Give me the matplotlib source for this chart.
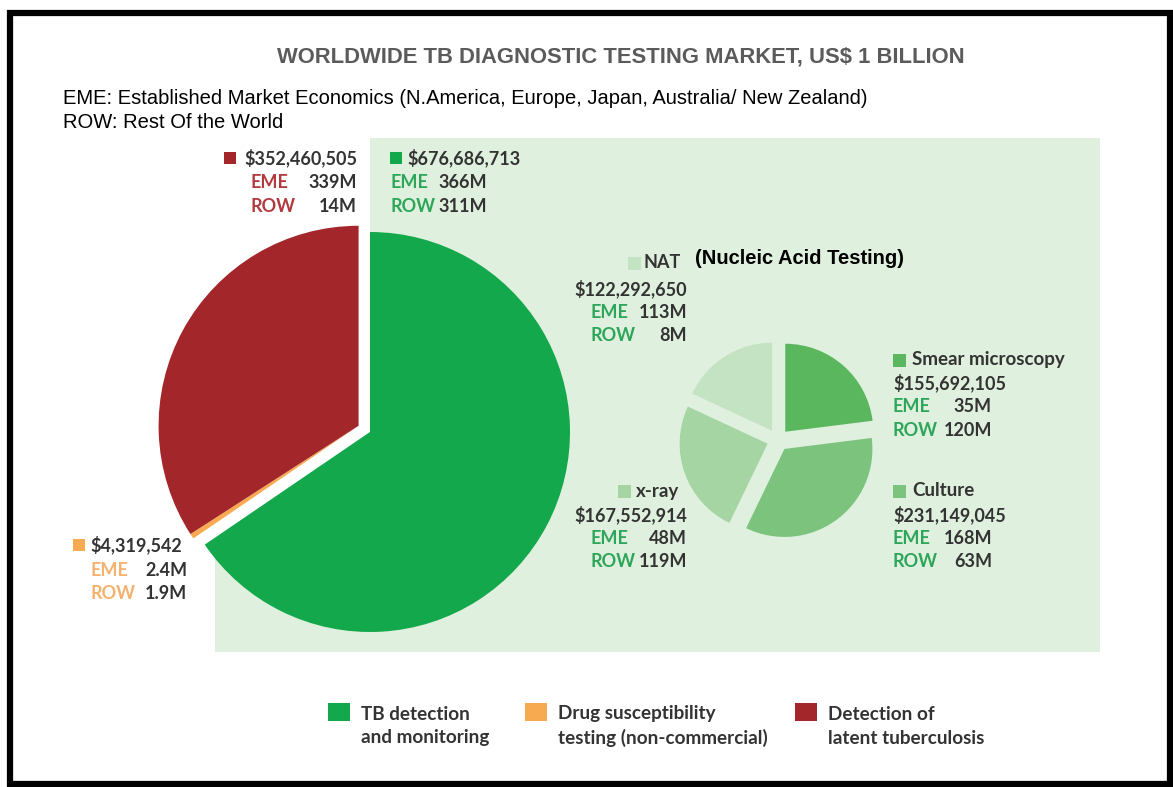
import matplotlib.pyplot as plt
from matplotlib.patches import Rectangle, Polygon

W, H = 1173, 787

# market split (US$)
market_names = ["TB detection", "Drug susceptibility", "Detection of latent TB"]
market_values = [676686713, 4319542, 352460505]
market_eme = ["366M", "2.4M", "339M"]
market_row = ["311M", "1.9M", "14M"]
legend_lines = [("TB detection", "and monitoring"),
                ("Drug susceptibility", "testing (non-commercial)"),
                ("Detection of", "latent tuberculosis")]

# TB detection and monitoring, split by method (clockwise from the top)
method_names = ["Smear microscopy", "Culture", "x-ray", "NAT"]
method_values = [155692105, 231149045, 167552914, 122292650]
method_eme = ["35M", "168M", "48M", "113M"]
method_row = ["120M", "63M", "119M", "8M"]

market_colors = ["#12a84b", "#f8aa50", "#a3262b"]
tag_colors = ["#2ea65a", "#f5b26e", "#b3393e"]
method_colors = ["#5bb75e", "#7cc47e", "#a5d5a3", "#c4e3c2"]
panel_color = "#e0f0de"
text_color = "#333333"

LABEL = dict(family="Lato", weight="bold", fontsize=13, color=text_color, va="center")


def Y(py):
    # pixel rows are counted from the top
    return H - py


def txt(x, y, s, **kw):
    opts = dict(LABEL)
    opts.update(kw)
    ax.text(x, Y(y), s, **opts)


def key(x, y, color, w=12, h=12):
    ax.add_patch(Rectangle((x, Y(y) - h / 2), w, h, color=color, lw=0))


def money(v):
    return "${:,}".format(v)


def tag_rows(x_tag, x_val, y0, eme, row, color, dy=23.5):
    txt(x_tag, y0, "EME", color=color)
    txt(x_val, y0, eme, ha="right")
    txt(x_tag, y0 + dy, "ROW", color=color)
    txt(x_val, y0 + dy, row, ha="right")


fig = plt.figure(figsize=(W / 100, H / 100), dpi=100)
ax = fig.add_axes([0, 0, 1, 1])

# light green background behind the detection part
panel = [(370, 138), (1100, 138), (1100, 652), (215, 652), (215, 538), (370, 432)]
ax.add_patch(Polygon([(x, Y(y)) for x, y in panel], closed=True, color=panel_color, lw=0, zorder=0))

# big pie
big, _ = ax.pie(market_values, colors=market_colors, startangle=90, counterclock=False,
                radius=200, center=(370, Y(432)), explode=[0, 13, 13],
                wedgeprops=dict(linewidth=0))
big[1].set_center(big[2].center)  # thin slice moves together with the red one

# detection methods pie
small, _ = ax.pie(method_values, colors=method_colors, startangle=90, counterclock=False,
                  radius=88, center=(778, Y(440)), explode=[11] * 4,
                  wedgeprops=dict(linewidth=0))

# title and notes
ax.text(621, Y(57), "WORLDWIDE TB DIAGNOSTIC TESTING MARKET, US$ 1 BILLION",
        family="Liberation Sans", weight="bold", fontsize=15.8, color="#5b5b5b",
        ha="center", va="center")
ax.text(63, Y(98), "EME: Established Market Economics (N.America, Europe, Japan, Australia/ New Zealand)",
        family="Liberation Sans", fontsize=14.5, color="black", va="center")
ax.text(63, Y(122), "ROW: Rest Of the World",
        family="Liberation Sans", fontsize=14.5, color="black", va="center")

# detection of latent TB
key(224, 158, market_colors[2])
txt(357, 158, money(market_values[2]), ha="right")
tag_rows(250, 357, 183, market_eme[2], market_row[2], tag_colors[2])

# TB detection and monitoring
key(390, 158, market_colors[0])
txt(407, 158, money(market_values[0]))
tag_rows(390, 487, 183, market_eme[0], market_row[0], tag_colors[0])

# drug susceptibility
key(73, 545, market_colors[1])
txt(90, 545, money(market_values[1]))
tag_rows(90, 187, 570, market_eme[1], market_row[1], tag_colors[1])

# NAT
key(628, 263, method_colors[3], w=13, h=13)
txt(681, 263, method_names[3], ha="right")
ax.text(695, Y(258), "(Nucleic Acid Testing)", family="Liberation Sans", weight="bold",
        fontsize=14.5, color="black", va="center")
txt(687, 289, money(method_values[3]), ha="right")
tag_rows(590, 687, 312, method_eme[3], method_row[3], tag_colors[0])

# smear microscopy
key(893, 360, method_colors[0], w=13, h=13)
txt(912, 360, method_names[0], fontsize=13.5)
txt(893, 383, money(method_values[0]))
tag_rows(893, 992, 407, method_eme[0], method_row[0], tag_colors[0])

# culture
key(893, 491, method_colors[1], w=13, h=13)
txt(912, 491, method_names[1], fontsize=13.5)
txt(893, 515, money(method_values[1]))
tag_rows(893, 992, 538, method_eme[1], method_row[1], tag_colors[0])

# x-ray
key(618, 491, method_colors[2], w=13, h=13)
txt(679, 491, method_names[2], ha="right", fontsize=13.5)
txt(687, 515, money(method_values[2]), ha="right")
tag_rows(590, 687, 538, method_eme[2], method_row[2], tag_colors[0])

# legend
for (l1, l2), color, x in zip(legend_lines, market_colors, [328, 525, 795]):
    ax.add_patch(Rectangle((x, Y(721)), 22, 18, color=color, lw=0))
    txt(x + 33, 714, l1, fontsize=13.6)
    txt(x + 33, 738, l2, fontsize=13.6)

# outer frame
ax.add_patch(Rectangle((10, Y(784)), 1160, 771, fill=False, ec="black", lw=4.5, zorder=5))

ax.set_xlim(0, W)
ax.set_ylim(0, H)
ax.set_aspect("auto")
ax.axis("off")

fig.savefig("out.png", dpi=100)
